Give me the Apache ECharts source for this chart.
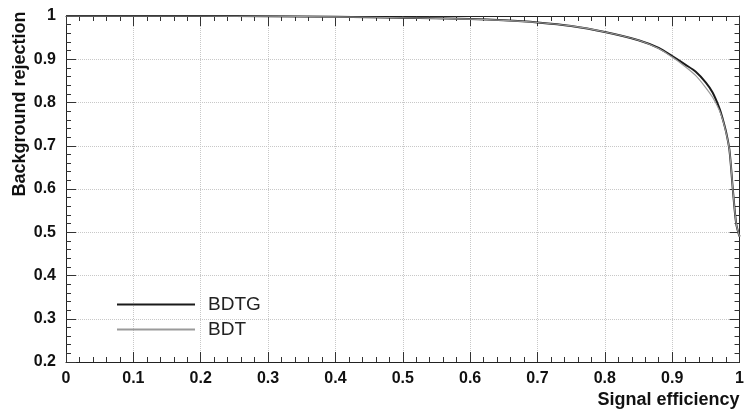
<!DOCTYPE html>
<html style="height: 100%">
	<head>
		<meta charset="utf-8">
	</head>
	<body style="height: 100%; margin: 0; background: #fff">
		<div id="container" style="width: 747px; height: 410px"></div>

		<script type="text/javascript" src="https://cdn.jsdelivr.net/npm/echarts@6/dist/echarts.min.js"></script>
		<script type="text/javascript">
			var dom = document.getElementById("container");
			var myChart = echarts.init(dom);

			// signal efficiency (x) values
			const effX = [0, 0.1, 0.2, 0.3, 0.4, 0.5, 0.6, 0.65, 0.7, 0.75, 0.8, 0.85, 0.88, 0.9,
				0.92, 0.935, 0.95, 0.96, 0.97, 0.975, 0.98, 0.985, 0.99, 0.995, 1.0];
			// background rejection for each
			const bdtgY = [1, 1, 1, 0.9995, 0.998, 0.996, 0.993, 0.99, 0.985, 0.977, 0.963, 0.944, 0.926, 0.907,
				0.887, 0.871, 0.846, 0.823, 0.787, 0.762, 0.732, 0.69, 0.6, 0.52, 0.49];
			const bdtY = [1, 1, 1, 0.9995, 0.998, 0.996, 0.993, 0.99, 0.985, 0.977, 0.963, 0.944, 0.925, 0.905,
				0.882, 0.862, 0.834, 0.812, 0.782, 0.76, 0.73, 0.69, 0.6, 0.52, 0.49];

			function pairs(xs, ys) {
				return xs.map(function(x, i) { return [x, ys[i]]; });
			}

			var font = 'Liberation Sans, Arial, sans-serif';
			var tickCol = '#333';

			// ROOT-style frame axis: ticks pointing into the plot, 5 minor divisions
			function frameAxis(extra) {
				var base = {
					type: 'value',
					interval: 0.1,
					axisLine: { show: true, onZero: false, lineStyle: { color: '#222' } },
					axisTick: { show: true, inside: true, length: 10, lineStyle: { color: tickCol, width: 1 } },
					minorTick: { show: true, splitNumber: 5, length: 5, lineStyle: { color: tickCol, width: 1 } },
					splitLine: { show: false },
					axisLabel: { show: false }
				};
				return Object.assign(base, extra);
			}

			var option = {
				animation: false,
				grid: { left: 66, right: 3, top: 16, bottom: 48 },
				legend: {
					orient: 'vertical',
					left: 111,
					top: 290,
					itemWidth: 78,
					itemHeight: 14,
					itemGap: 6,
					itemStyle: { color: 'transparent', borderWidth: 0, opacity: 0 },
					textStyle: { fontFamily: font, fontSize: 19, color: '#222', padding: [0, 0, 0, 8] },
					data: ['BDTG', 'BDT']
				},
				xAxis: [
					frameAxis({
						min: 0, max: 1,
						position: 'bottom',
						splitLine: { show: true, lineStyle: { color: '#c8c8c8', type: 'dotted' } },
						axisLabel: {
							show: true, margin: 9, fontFamily: font, fontWeight: 'bold', fontSize: 16, color: '#111',
							formatter: function(v) { return v === 0 || v === 1 ? String(v) : v.toFixed(1); }
						},
						name: 'Signal efficiency',
						nameLocation: 'end',
						nameGap: 0,
						nameTextStyle: {
							fontFamily: font, fontWeight: 'bold', fontSize: 18, color: '#111',
							align: 'right', verticalAlign: 'top', padding: [29, 0, 0, 0]
						}
					}),
					frameAxis({ min: 0, max: 1, position: 'top' })
				],
				yAxis: [
					frameAxis({
						min: 0.2, max: 1,
						position: 'left',
						splitLine: { show: true, lineStyle: { color: '#c8c8c8', type: 'dotted' } },
						axisLabel: {
							show: true, margin: 10, fontFamily: font, fontWeight: 'bold', fontSize: 16, color: '#111',
							formatter: function(v) { return v === 1 ? '1' : v.toFixed(1); }
						}
					}),
					frameAxis({ min: 0.2, max: 1, position: 'right' })
				],
				graphic: [{
					type: 'text',
					x: 20,
					y: 104,
					rotation: Math.PI / 2,
					style: {
						text: 'Background rejection',
						fontFamily: font, fontWeight: 'bold', fontSize: 18, fill: '#111',
						textAlign: 'center', textVerticalAlign: 'middle'
					}
				}],
				series: [
					{
						name: 'BDTG',
						type: 'line',
						symbol: 'none',
						smooth: 0.3,
						lineStyle: { color: '#1a1a1a', width: 2 },
						itemStyle: { color: '#1a1a1a' },
						data: pairs(effX, bdtgY),
						z: 3
					},
					{
						name: 'BDT',
						type: 'line',
						symbol: 'none',
						smooth: 0.3,
						lineStyle: { color: '#9a9a9a', width: 1.2 },
						itemStyle: { color: '#9a9a9a' },
						data: pairs(effX, bdtY),
						z: 4
					}
				]
			};

			myChart.setOption(option);
		</script>
	</body>
</html>
